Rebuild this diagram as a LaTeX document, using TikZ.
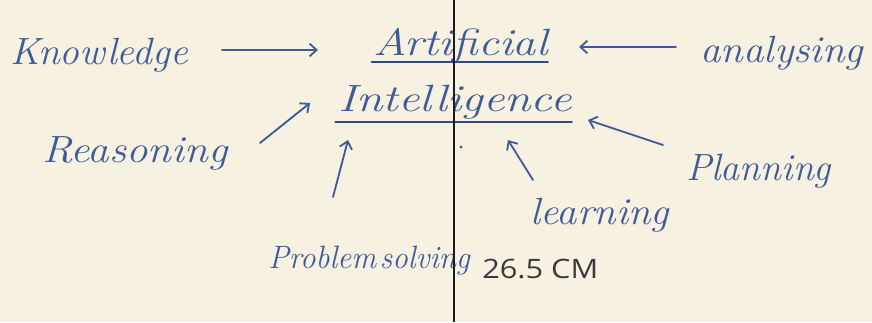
\documentclass[tikz,border=0pt]{standalone}
\usepackage{fontspec}
\usetikzlibrary{positioning, arrows.meta, calc}
\definecolor{inkblue}{HTML}{3F5C98}
\definecolor{inkdark}{HTML}{2F4A7C}
\definecolor{paper}{HTML}{F7F1E2}
\definecolor{rulegray}{HTML}{1C1C1C}
\definecolor{printgray}{HTML}{3A3A3A}
\newfontfamily\printfont{Open Sans}

\begin{document}
\begin{tikzpicture}[x=0.025cm, y=-0.025cm,
    hand/.style={text=inkblue, font=\fontsize{27}{30}\selectfont\itshape,
                 inner sep=0pt, anchor=base west},
    ink/.style={draw=inkblue, line width=1.3pt, line cap=round,
                -{Straight Barb[length=5pt, width=9pt, line width=1.3pt]}},
    uline/.style={draw=inkdark, line width=1.2pt, line cap=round}]
    % sheet and bounds
    \fill[paper] (0,0) rectangle (872,322);
    \useasboundingbox (0,0) rectangle (872,322);

    % the two title words
    \node[hand] (art) at (373,55) {\scalebox{1.22}[1]{Artificial}};
    \node[hand] (intel) at (338,111) {\scalebox{1.26}[1]{Intelligence}};
    \draw[uline] ([xshift=-1pt, yshift=-5pt]art.base west) -- ([yshift=-5pt]art.base east);
    \draw[uline] ([xshift=-2pt, yshift=-8pt]intel.base west) -- ([yshift=-8pt]intel.base east);

    % the words round them
    \node[hand] (know) at (10,64) {\scalebox{1.04}[1]{Knowledge}};
    \node[hand] (anal) at (700,62) {\scalebox{1.08}[1]{analysing}};
    \node[hand] (reas) at (42,162) {\scalebox{1.13}[1]{Reasoning}};
    \node[hand] (plan) at (686,180) {Planning};
    \node[hand] (learn) at (530,224) {\scalebox{1.07}[1]{learning}};
    \node[hand, font=\fontsize{23}{26}\selectfont\itshape] (prob) at (268,268)
        {\scalebox{0.96}[1]{Problem\hspace{0.12em}solving}};

    % arrows into the title
    \draw[ink] ($(know.base west)+(212,-14)$) -- ($(art.base west)+(-55,-5)$);
    \draw[ink] ($(anal.base west)+(-24,-15)$) -- ($(art.base west)+(206,-8)$);
    \draw[ink] ($(reas.base west)+(218,-19)$) -- ($(intel.base west)+(-28,-8)$);
    \draw[ink] ($(prob.base west)+(65,-71)$) -- ($(intel.base west)+(10,29)$);
    \draw[ink] ($(learn.base west)+(3,-44)$) -- ($(intel.base west)+(170,29)$);
    \draw[ink] ($(plan.base west)+(-23,-35)$) -- ($(intel.base west)+(250,9)$);
    \fill[inkblue] ($(intel.base west)+(123,36)$) circle[radius=1.2pt];

    % fold line and printed size
    \draw[rulegray, line width=1.4pt] (454,0) -- (454,322);
    \node[text=printgray, font=\printfont\fontsize{19}{22}\selectfont,
          inner sep=0pt, anchor=base west] (size) at (482,278) {\scalebox{1.15}[1]{26.5 CM}};
\end{tikzpicture}
\end{document}
